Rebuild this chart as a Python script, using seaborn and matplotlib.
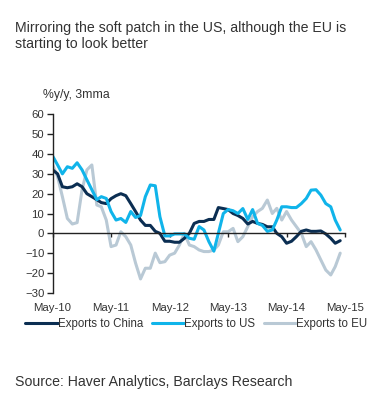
import numpy as np
import pandas as pd
import matplotlib
matplotlib.use("Agg")
import matplotlib.pyplot as plt
import matplotlib.dates as mdates
import seaborn as sns

# ---- data (monthly, May-10 .. Apr-15), % y/y 3mma ----
months = pd.date_range("2010-05-01", periods=60, freq="MS")
china = [32, 30, 23.5, 23, 23.5, 25, 23.5, 20, 18.5, 17, 15.5, 15,
         17.5, 19, 20, 19, 15, 11, 6.7, 4, 4, 1, 0, -4,
         -4, -4.5, -4.5, -2.5, 0, 5, 6, 6, 7, 7, 13, 12.5,
         12, 10, 9, 7.5, 4.7, 6, 5, 4.5, 3.3, 3.3, 0, -1.7,
         -5, -4, -1.7, 1, 1.7, 1, 1, 1.2, -0.3, -2.5, -5, -3.7]
us = [39, 34.5, 30, 33.6, 32.8, 35.6, 32, 27, 22, 17, 18.5, 17.6,
      11, 6.7, 7.5, 5.5, 11, 8, 9, 18.5, 24.4, 24, 8.4, -1.3,
      -1.3, -0.3, -0.3, -0.3, -2.5, -3, 3.4, 1.7, -4.2, -9, 0, 10,
      12, 11.4, 10, 12.5, 7, 12, 5, 4, 1, 1.7, 6.7, 13.4,
      13.4, 13, 13, 15, 17.6, 21.8, 22, 19.3, 15, 13.4, 6.7, 1.7]
eu = [34.5, 28.6, 18.5, 7.5, 4.7, 5.4, 22, 32, 34.5, 14.3, 13.4, 6.7,
      -6.7, -5.9, 0.8, -1.7, -5.9, -15, -23, -17.6, -17.6, -10, -14.8, -14.3,
      -11, -10, -5.9, 0, -5.9, -6.7, -8.4, -9.2, -9.2, -8.4, -5.9, 0.8,
      0.8, 2.5, -4.2, -1.7, 3.4, 8.4, 11, 12.6, 16.8, 10, 12.6, 6.7,
      11, 6.7, 3.4, 0, -6.7, -4.2, -8.4, -13.4, -18.5, -21, -16.8, -10]
series_names = ["Exports to China", "Exports to US", "Exports to EU"]
series_colors = ["#0b2e52", "#10b4ea", "#b9c9d5"]
title = "Mirroring the soft patch in the US, although the EU is\nstarting to look better"
unit_label = "%y/y, 3mma"
source = "Source: Haver Analytics, Barclays Research"

df = pd.DataFrame({"date": months, series_names[0]: china,
                   series_names[1]: us, series_names[2]: eu})
long = df.melt(id_vars="date", var_name="series", value_name="value")

sns.set_theme(style="white")
plt.rcParams["font.family"] = ["Liberation Sans", "DejaVu Sans"]

fig = plt.figure(figsize=(3.68, 4.0), dpi=100)
ax = fig.add_axes([0.143, 0.268, 0.9375 - 0.143, 0.714 - 0.268])

palette = dict(zip(series_names, series_colors))
draw_order = [series_names[2], series_names[0], series_names[1]]
for name in draw_order:
    sns.lineplot(data=long[long["series"] == name], x="date", y="value",
                 color=palette[name], linewidth=2.2, ax=ax, label=name)

ax.set_xlim(pd.Timestamp("2010-05-01"), pd.Timestamp("2015-05-01"))
ax.set_ylim(-30, 60)
ax.set_yticks(np.arange(-30, 61, 10))
ax.set_xlabel("")
ax.set_ylabel("")

ax.xaxis.set_major_locator(mdates.MonthLocator(bymonth=5))
ax.xaxis.set_major_formatter(mdates.DateFormatter("%b-%y"))

for s in ["top", "right"]:
    ax.spines[s].set_visible(False)
ax.spines["left"].set_color("#222222")
ax.spines["left"].set_linewidth(1.0)
ax.spines["bottom"].set_position(("data", 0))
ax.spines["bottom"].set_color("#222222")
ax.spines["bottom"].set_linewidth(1.0)

ax.tick_params(axis="y", which="major", direction="out", length=4, width=1,
               color="#222222", labelsize=8.2, labelcolor="#333333", pad=2, left=True)
ax.tick_params(axis="x", which="major", direction="out", length=3, width=1,
               color="#222222", labelsize=8.2, labelcolor="#333333", pad=47, bottom=True)

fig.text(0.116, 0.7625, unit_label, fontsize=8.8, color="#333333", va="center")

handles, labels = ax.get_legend_handles_labels()
hmap = dict(zip(labels, handles))
leg = ax.legend([hmap[n] for n in series_names], series_names,
                loc="upper center", bbox_to_anchor=(0.492, -0.142), ncol=3,
                frameon=False, fontsize=8.3, handlelength=2.8, handletextpad=0.05,
                columnspacing=0.7, borderaxespad=0, borderpad=0)
for t in leg.get_texts():
    t.set_color("#333333")

fig.text(0.04, 0.947, title, fontsize=10.2, color="#333333", va="top",
         linespacing=1.2)
fig.text(0.04, 0.046, source, fontsize=10.2, color="#333333", va="center")

fig.savefig("out.png", dpi=100, facecolor="white")
